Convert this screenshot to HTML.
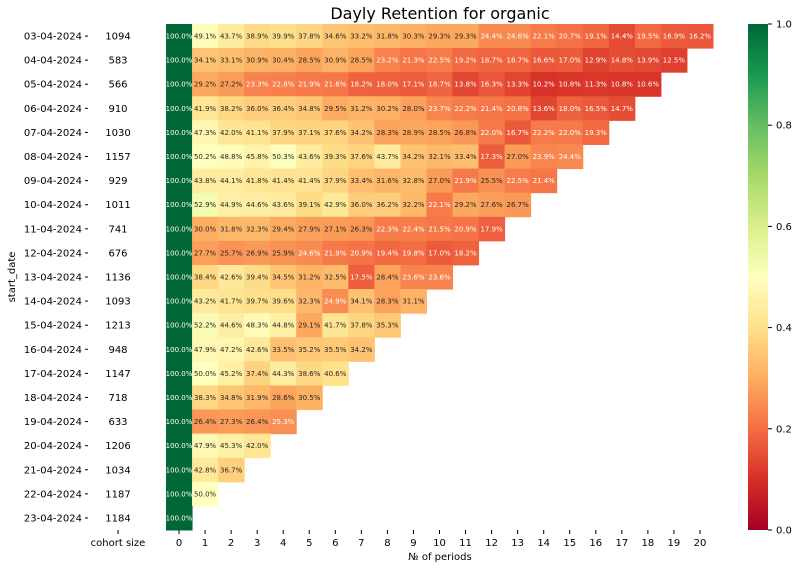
<!DOCTYPE html>
<html><head><meta charset="utf-8">
<style>
html,body{margin:0;padding:0;background:#fff;}
svg{display:block;font-family:"DejaVu Sans","Liberation Sans",sans-serif;}
</style></head>
<body>
<svg id="chart" width="802" height="568">
<defs>
<linearGradient id="cbgrad" x1="0" y1="1" x2="0" y2="0">
<stop offset="0" stop-color="#a50026"/><stop offset="0.1" stop-color="#d73027"/><stop offset="0.2" stop-color="#f46d43"/><stop offset="0.3" stop-color="#fdae61"/><stop offset="0.4" stop-color="#fee08b"/><stop offset="0.5" stop-color="#ffffbf"/><stop offset="0.6" stop-color="#d9ef8b"/><stop offset="0.7" stop-color="#a6d96a"/><stop offset="0.8" stop-color="#66bd63"/><stop offset="0.9" stop-color="#1a9850"/><stop offset="1" stop-color="#006837"/>
</linearGradient>
</defs>
<text x="440" y="19" text-anchor="middle" font-size="16" fill="#000">Dayly Retention for organic</text>
<text x="15" y="277" transform="rotate(-90 15 277)" text-anchor="middle" font-size="10">start_date</text>
<text x="440" y="560" text-anchor="middle" font-size="10">№ of periods</text>
<text x="118" y="546" text-anchor="middle" font-size="10">cohort size</text>
<g id="cells"></g>
<g id="colorbar">
<rect x="748" y="24" width="20" height="506" fill="url(#cbgrad)"/>
</g>
</svg>
<script>
const dates = ["03-04-2024","04-04-2024","05-04-2024","06-04-2024","07-04-2024","08-04-2024","09-04-2024","10-04-2024","11-04-2024","12-04-2024","13-04-2024","14-04-2024","15-04-2024","16-04-2024","17-04-2024","18-04-2024","19-04-2024","20-04-2024","21-04-2024","22-04-2024","23-04-2024"];
const cohortSizes = [1094,583,566,910,1030,1157,929,1011,741,676,1136,1093,1213,948,1147,718,633,1206,1034,1187,1184];
const periods = [0,1,2,3,4,5,6,7,8,9,10,11,12,13,14,15,16,17,18,19,20];
const cbTicks = [0,0.2,0.4,0.6,0.8,1.0];
const r0 = [100,49.1,43.7,38.9,39.9,37.8,34.6,33.2,31.8,30.3,29.3,29.3,24.4,24.6,22.1,20.7,19.1,14.4,19.5,16.9,16.2];
const r1 = [100,34.1,33.1,30.9,30.4,28.5,30.9,28.5,23.2,21.3,22.5,19.2,18.7,18.7,16.6,17.0,12.9,14.8,13.9,12.5];
const r2 = [100,29.2,27.2,23.3,22.8,21.9,21.6,18.2,18.0,17.1,18.7,13.8,16.3,13.3,10.2,10.8,11.3,10.8,10.6];
const r3 = [100,41.9,38.2,36.0,36.4,34.8,29.5,31.2,30.2,28.0,23.7,22.2,21.4,20.8,13.6,18.0,16.5,14.7];
const r4 = [100,47.3,42.0,41.1,37.9,37.1,37.6,34.2,28.3,28.9,28.5,26.8,22.0,16.7,22.2,22.0,19.3];
const r5 = [100,50.2,48.8,45.8,50.3,43.6,39.3,37.6,43.7,34.2,32.1,33.4,17.3,27.0,23.9,24.4];
const r6 = [100,43.8,44.1,41.8,41.4,41.4,37.9,33.4,31.6,32.8,27.0,21.9,25.5,22.5,21.4];
const r7 = [100,52.9,44.9,44.6,43.6,39.1,42.9,36.0,36.2,32.2,22.1,29.2,27.6,26.7];
const r8 = [100,30.0,31.8,32.3,29.4,27.9,27.1,26.3,22.3,22.4,21.5,20.9,17.9];
const r9 = [100,27.7,25.7,26.9,25.9,24.6,21.9,20.9,19.4,19.8,17.0,18.2];
const r10 = [100,38.4,42.6,39.4,34.5,31.2,32.5,17.5,28.4,23.6,23.6];
const r11 = [100,43.2,41.7,39.7,39.6,32.3,24.9,34.1,28.3,31.1];
const r12 = [100,52.2,44.6,48.3,44.8,29.1,41.7,37.8,35.3];
const r13 = [100,47.9,47.2,42.6,33.5,35.2,35.5,34.2];
const r14 = [100,50.0,45.2,37.4,44.3,38.6,40.6];
const r15 = [100,38.3,34.8,31.9,28.6,30.5];
const r16 = [100,26.4,27.3,26.4,25.3];
const r17 = [100,47.9,45.3,42.0];
const r18 = [100,42.8,36.7];
const r19 = [100,50.0];
const r20 = [100];
const retention = [r0,r1,r2,r3,r4,r5,r6,r7,r8,r9,r10,r11,r12,r13,r14,r15,r16,r17,r18,r19,r20];

const NS="http://www.w3.org/2000/svg";
const X0=166, X1=713, Y0=24, Y1=530;
const cw=(X1-X0)/periods.length, ch=(Y1-Y0)/dates.length;
const xPos=i=>X0+i*cw;
const yPos=i=>Y0+i*ch;
const cbY=v=>Y1-v*(Y1-Y0);
const stops=["#a50026","#d73027","#f46d43","#fdae61","#fee08b","#ffffbf","#d9ef8b","#a6d96a","#66bd63","#1a9850","#006837"].map(h=>[parseInt(h.slice(1,3),16),parseInt(h.slice(3,5),16),parseInt(h.slice(5,7),16)]);
function cmap(v){v=Math.max(0,Math.min(1,v));const t=v*10;const i=Math.min(9,Math.floor(t));const f=t-i;
return stops[i].map((c,k)=>Math.round(c+(stops[i+1][k]-c)*f));}
function lum(rgb){const l=rgb.map(c=>{c/=255;return c<=0.03928?c/12.92:Math.pow((c+0.055)/1.055,2.4);});return 0.2126*l[0]+0.7152*l[1]+0.0722*l[2];}
function mk(tag,attrs,parent){const e=document.createElementNS(NS,tag);for(const k in attrs)e.setAttribute(k,attrs[k]);parent.appendChild(e);return e;}
const svg=document.getElementById('chart');
const g=document.getElementById('cells');
retention.forEach((row,ri)=>{
  row.forEach((v,ci)=>{
    const c=cmap(v/100);
    const r=mk('rect',{x:xPos(ci),y:yPos(ri),width:cw+0.5,height:ch+0.5,fill:`rgb(${c})`},g);
    
    
  });
});
retention.forEach((row,ri)=>{
  row.forEach((v,ci)=>{
    const c=cmap(v/100);
    const t=mk('text',{x:xPos(ci)+cw/2,y:yPos(ri)+ch/2+2.5,'text-anchor':'middle','font-size':'7','fill':lum(c)>0.408?'#262626':'#ffffff'},g);
    t.textContent=v.toFixed(1)+'%';
    
    
  });
});
dates.forEach((d,i)=>{
  const yc=yPos(i)+ch/2;
  const t=mk('text',{x:82,y:yc+3.5,'text-anchor':'end','font-size':'10'},svg);
  t.textContent=d;
  
  
  const tk=mk('line',{x1:85,x2:88,y1:yc,y2:yc,stroke:'#000','stroke-width':'1'},svg);
  
  
  const s=mk('text',{x:118,y:yc+3.5,'text-anchor':'middle','font-size':'10'},svg);
  s.textContent=cohortSizes[i];
  
  
});
const ctk=mk('line',{x1:118,x2:118,y1:530,y2:534,stroke:'#000'},svg);


periods.forEach((p,i)=>{
  const xc=xPos(i)+cw/2;
  const tk=mk('line',{x1:xc,x2:xc,y1:530,y2:534,stroke:'#000'},svg);
  
  
  const t=mk('text',{x:xc,y:546,'text-anchor':'middle','font-size':'10'},svg);
  t.textContent=p;
  
  
});
const cb=document.getElementById('colorbar');
cbTicks.forEach(v=>{
  const y=cbY(v);
  const tk=mk('line',{x1:768,x2:772,y1:y,y2:y,stroke:'#000'},cb);
  
  
  const t=mk('text',{x:776,y:y+3.5,'font-size':'10'},cb);
  t.textContent=v.toFixed(1);
  
  
});
</script>
</body></html>
